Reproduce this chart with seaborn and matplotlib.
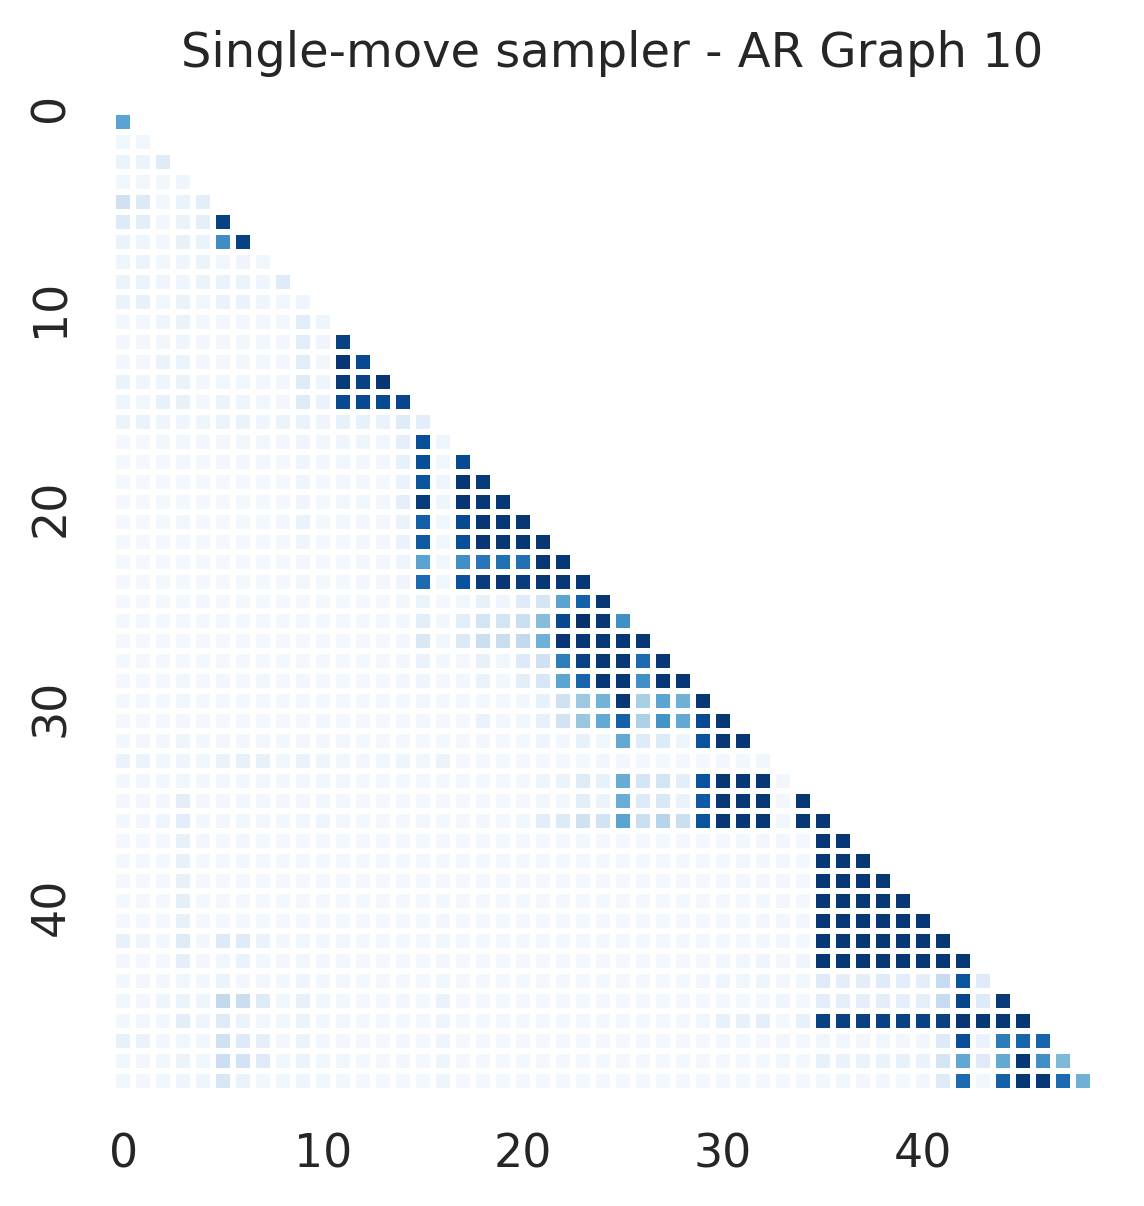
import numpy as np
import matplotlib
matplotlib.use('Agg')
import matplotlib.pyplot as plt
import matplotlib.transforms as mtransforms
import seaborn as sns

sns.set(style='white', font_scale=1.5)

# co-occurrence values (percent), lower triangle, row by row
r00 = [55]
r01 = [4, 4]
r02 = [6, 6, 12]
r03 = [4, 4, 3, 5]
r04 = [20, 14, 3, 7, 10]
r05 = [13, 10, 3, 7, 9, 93]
r06 = [7, 5, 3, 8, 7, 64, 93]
r07 = [5, 6, 4, 5, 6, 4, 5, 4]
r08 = [6, 6, 5, 5, 6, 7, 6, 5, 12]
r09 = [7, 8, 4, 7, 4, 7, 7, 5, 4, 5]
r10 = [3, 3, 5, 7, 3, 3, 3, 3, 3, 11, 5]
r11 = [3, 3, 4, 5, 3, 3, 3, 3, 3, 11, 5, 93]
r12 = [3, 3, 7, 6, 3, 3, 3, 3, 3, 11, 4, 98, 90]
r13 = [7, 5, 5, 7, 3, 4, 4, 3, 3, 12, 5, 96, 93, 98]
r14 = [5, 4, 8, 8, 3, 6, 5, 4, 3, 12, 7, 90, 90, 90, 92]
r15 = [6, 7, 5, 5, 5, 6, 7, 5, 6, 7, 5, 8, 8, 7, 12, 10]
r16 = [2, 2, 3, 3, 3, 3, 4, 4, 3, 5, 4, 5, 5, 4, 9, 88, 5]
r17 = [2, 2, 2, 3, 2, 3, 3, 3, 2, 5, 3, 4, 3, 3, 8, 88, 4, 90]
r18 = [2, 2, 2, 2, 2, 2, 2, 2, 2, 5, 2, 3, 3, 2, 7, 86, 5, 98, 96]
r19 = [2, 2, 2, 2, 2, 2, 2, 2, 2, 5, 2, 4, 4, 3, 9, 96, 5, 98, 97, 97]
r20 = [2, 2, 2, 4, 2, 2, 2, 2, 3, 7, 2, 3, 3, 3, 7, 82, 4, 90, 98, 97, 97]
r21 = [2, 2, 2, 2, 2, 2, 2, 2, 2, 5, 2, 2, 3, 3, 7, 84, 4, 88, 98, 97, 97, 97]
r22 = [2, 2, 2, 2, 2, 2, 2, 2, 2, 3, 2, 2, 3, 3, 5, 55, 4, 63, 73, 75, 75, 97, 97]
r23 = [2, 2, 2, 2, 2, 2, 2, 2, 2, 4, 2, 2, 3, 3, 5, 78, 4, 87, 95, 98, 95, 97, 97, 97]
r24 = [2, 2, 2, 2, 3, 2, 2, 2, 2, 2, 2, 2,
       2, 2, 3, 6, 2, 4, 8, 5, 12, 17, 55, 81, 97]
r25 = [2, 2, 2, 2, 2, 2, 2, 2, 2, 2, 2, 2,
       2, 2, 3, 11, 3, 11, 18, 18, 22, 43, 91, 100, 97, 63]
r26 = [2, 2, 2, 2, 2, 2, 2, 2, 2, 2, 2, 2,
       2, 2, 3, 15, 4, 14, 22, 23, 26, 49, 98, 97, 97, 97, 97]
r27 = [2, 2, 2, 2, 2, 2, 2, 2, 2, 2, 2, 2,
       2, 2, 3, 7, 3, 2, 8, 4, 13, 20, 70, 94, 97, 97, 78, 97]
r28 = [2, 2, 2, 4, 2, 3, 2, 4, 2, 3, 2, 2,
       2, 2, 3, 5, 2, 3, 7, 3, 10, 16, 54, 80, 97, 97, 63, 97, 97]
r29 = [2, 2, 2, 4, 2, 2, 2, 2, 2, 2, 2, 2,
       2, 2, 2, 3, 2, 2, 2, 2, 3, 8, 20, 38, 48, 97, 34, 54, 49, 97]
r30 = [2, 2, 2, 3, 2, 2, 2, 2, 2, 2, 4, 2,
       2, 2, 2, 3, 2, 2, 7, 3, 4, 8, 19, 39, 52, 81, 33, 62, 52, 90, 97]
r31 = [3, 3, 3, 5, 3, 3, 3, 3, 3, 3, 3, 3,
       2, 2, 2, 2, 2, 2, 3, 2, 2, 5, 3, 8, 4, 52, 12, 13, 5, 86, 97, 97]
r32 = [7, 6, 4, 5, 4, 7, 8, 8, 4, 7, 5, 4,
       3, 4, 5, 4, 6, 2, 2, 2, 2, 2, 2, 2, 3, 3, 2, 2, 2, 2, 3, 3, 4]
r33 = [3, 3, 3, 4, 3, 3, 3, 3, 3, 3, 4, 3,
       2, 2, 2, 2, 2, 2, 2, 2, 2, 5, 6, 12, 8, 51, 17, 18, 10, 86, 97, 97, 97, 3]
r34 = [3, 3, 3, 10, 3, 3, 4, 3, 3, 3, 4, 3,
       2, 2, 2, 2, 2, 2, 2, 2, 2, 4, 3, 10, 6, 50, 13, 15, 7, 84, 97, 97, 97, 3, 97]
r35 = [3, 3, 5, 11, 3, 3, 4, 3, 3, 4, 5, 3,
       2, 2, 2, 3, 2, 2, 3, 2, 4, 11, 13, 20, 19, 55, 22, 30, 22, 86, 97, 97, 97, 3, 97, 97]
r36 = [2, 2, 2, 8, 3, 2, 3, 2, 2, 2, 2, 2,
       2, 2, 2, 2, 2, 2, 2, 2, 2, 2, 2, 3,
       2, 2, 2, 2, 2, 2, 2, 3, 3, 3, 2, 97, 97]
r37 = [2, 2, 2, 8, 2, 2, 3, 2, 2, 2, 2, 2,
       2, 2, 2, 2, 2, 2, 2, 2, 2, 2, 2, 2,
       2, 2, 2, 2, 2, 2, 2, 3, 3, 3, 2, 97, 97, 97]
r38 = [2, 2, 2, 8, 2, 2, 2, 2, 2, 2, 2, 2,
       2, 2, 2, 2, 2, 2, 2, 2, 2, 2, 2, 2,
       2, 2, 2, 2, 2, 2, 2, 3, 3, 3, 2, 97, 97, 97, 97]
r39 = [2, 2, 2, 9, 2, 2, 2, 2, 2, 2, 2, 2,
       2, 2, 2, 2, 3, 2, 2, 2, 2, 2, 2, 2,
       2, 2, 2, 2, 2, 2, 2, 2, 3, 3, 2, 97, 97, 97, 97, 97]
r40 = [2, 2, 2, 8, 2, 2, 2, 2, 2, 2, 2, 2,
       2, 2, 2, 2, 3, 2, 2, 2, 2, 2, 2, 2,
       2, 2, 2, 2, 2, 2, 2, 2, 3, 3, 3, 97, 97, 97, 97, 97, 97]
r41 = [8, 5, 3, 12, 3, 13, 12, 7, 3, 4, 3, 3,
       2, 2, 2, 2, 4, 2, 2, 2, 2, 2, 2, 2,
       2, 2, 2, 2, 2, 2, 2, 2, 3, 3, 2, 97, 97, 97, 97, 97, 97, 97]
r42 = [3, 2, 2, 9, 3, 4, 7, 3, 3, 4, 3, 3,
       2, 2, 2, 2, 3, 2, 2, 2, 2, 2, 2, 2,
       2, 2, 2, 2, 2, 2, 4, 4, 5, 3, 5, 97, 97, 97, 97, 97, 97, 97, 97]
r43 = [3, 3, 3, 4, 3, 6, 3, 3, 3, 5, 3, 3,
       2, 2, 2, 2, 4, 2, 2, 2, 2, 2, 2, 2,
       2, 2, 2, 2, 2, 3, 5, 4, 5, 3, 4, 12,
       10, 10, 12, 11, 10, 25, 86, 12]
r44 = [4, 3, 5, 6, 5, 26, 23, 12, 4, 8, 4, 3,
       2, 2, 3, 2, 7, 2, 2, 2, 2, 2, 2, 2,
       2, 2, 2, 2, 2, 2, 2, 2, 2, 5, 2, 10,
       9, 9, 10, 9, 9, 25, 92, 13, 96]
r45 = [3, 3, 3, 10, 5, 12, 6, 3, 4, 6, 3, 3,
       2, 2, 2, 2, 5, 2, 2, 2, 2, 2, 2, 2,
       2, 2, 2, 2, 2, 4, 8, 8, 9, 2, 8, 93,
       94, 94, 93, 93, 93, 94, 98, 97, 97, 97]
r46 = [8, 7, 3, 4, 4, 20, 13, 9, 3, 6, 3, 3,
       2, 2, 3, 2, 5, 2, 2, 2, 2, 2, 2, 2,
       2, 2, 2, 2, 2, 2, 2, 2, 2, 4, 2, 4,
       4, 3, 4, 3, 3, 13, 89, 7, 71, 80, 80]
r47 = [4, 3, 4, 6, 4, 22, 19, 12, 4, 6, 4, 4,
       2, 2, 3, 2, 5, 2, 2, 2, 2, 2, 2, 2,
       2, 2, 2, 2, 2, 2, 2, 2, 2, 4, 2, 8,
       7, 7, 7, 8, 7, 18, 53, 12, 52, 97, 63, 45]
r48 = [4, 3, 4, 5, 5, 16, 7, 3, 4, 5, 4, 3,
       2, 2, 2, 2, 5, 2, 2, 2, 2, 2, 2, 2,
       2, 2, 2, 2, 2, 2, 2, 2, 2, 2, 2, 3,
       4, 3, 3, 2, 3, 12, 78, 4, 81, 97, 97, 78, 49]

rows = [r00, r01, r02, r03, r04, r05, r06, r07, r08, r09,
        r10, r11, r12, r13, r14, r15, r16, r17, r18, r19,
        r20, r21, r22, r23, r24, r25, r26, r27, r28, r29,
        r30, r31, r32, r33, r34, r35, r36, r37, r38, r39,
        r40, r41, r42, r43, r44, r45, r46, r47, r48]

n = len(rows)
mat = np.full((n, n), np.nan)
for i, r in enumerate(rows):
    mat[i, :len(r)] = np.array(r) / 100.0
mask = np.triu(np.ones((n, n), dtype=bool), k=1)

fig = plt.figure(figsize=(5.72, 6.03), dpi=200)
ax = fig.add_axes([0.099, 0.0945, 0.856, 0.8135])
sns.heatmap(mat, mask=mask, cmap='Blues', vmin=0, vmax=1, linewidths=2,
            linecolor='white', cbar=False, square=True,
            xticklabels=10, yticklabels=10, ax=ax)
ax.set_title('Single-move sampler - AR Graph 10', fontsize=17.3, pad=16, x=0.51)
ax.tick_params(axis='x', rotation=0, pad=8.8)
ax.tick_params(axis='y', rotation=90, pad=8.2)
# y labels sit a bit above their rows in the original
shift = mtransforms.ScaledTranslation(0, 14 / 200, fig.dpi_scale_trans)
for lab in ax.get_yticklabels():
    lab.set_va('center')
    lab.set_transform(lab.get_transform() + shift)

plt.savefig('out.png', dpi=200)
